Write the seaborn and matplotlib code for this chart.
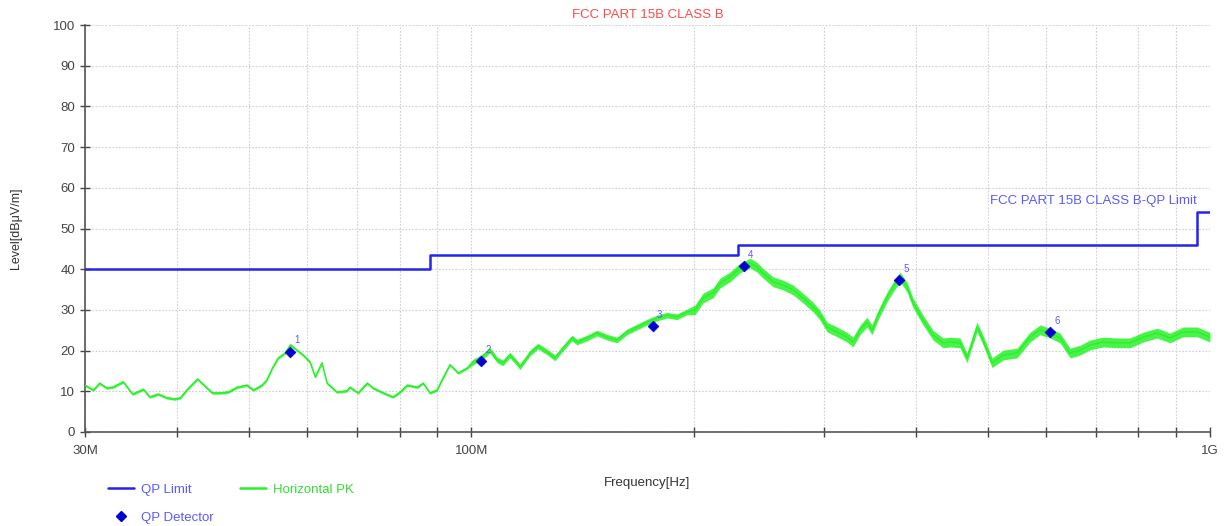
"""Radiated emission scan, FCC Part 15B Class B, horizontal polarisation."""

import matplotlib

matplotlib.use("Agg")

import matplotlib.pyplot as plt
import numpy as np
import pandas as pd
import seaborn as sns
from matplotlib.lines import Line2D

# limit line (MHz, dBuV/m)
limit_freq = [30, 88, 230, 960, 1000]
limit_level = [40, 43.5, 46, 54, 54]

# horizontal PK trace (MHz, dBuV/m)
trace_freq = [
    30.0, 30.8, 31.4, 32.1, 32.7, 33.8, 34.8, 36.0, 36.7, 37.7,
    38.7, 39.7, 40.4, 41.2, 42.6, 43.6, 44.6, 45.7, 46.9, 48.2,
    49.7, 50.7, 52.1, 52.9, 53.8, 54.8, 56.0, 56.9, 58.1, 59.2,
    60.5, 61.5, 62.8, 63.8, 65.8, 67.9, 68.5, 70.3, 72.3, 73.6,
    76.0, 78.4, 80.1, 81.9, 84.5, 86.1, 87.9, 89.9, 91.6, 93.6,
    96.0, 98.7, 100.6, 103.4, 106.0, 108.4, 110.4, 112.8, 115.3, 116.4,
    120.1, 123.1, 126.6, 129.8, 133.1, 136.9, 139.0, 143.5, 148.0, 152.7,
    157.5, 162.5, 167.7, 173.0, 178.4, 184.1, 189.9, 195.9, 200.9, 205.9,
    212.5, 217.2, 224.0, 231.1, 238.5, 243.7, 248.3, 256.2, 264.3, 272.7,
    281.3, 290.2, 296.6, 303.1, 312.7, 322.6, 328.7, 336.0, 343.3, 348.8,
    355.3, 365.5, 372.4, 380.6, 389.0, 396.3, 408.9, 421.8, 435.2, 444.8,
    458.8, 468.9, 483.8, 492.9, 507.0, 524.7, 548.1, 570.7, 588.8, 607.4,
    626.7, 646.5, 667.0, 688.1, 716.6, 748.6, 779.5, 811.8, 847.9, 883.0,
    919.5, 960.4, 1000.0,
]
trace_level = [
    11.5, 10.3, 12.0, 10.8, 11.0, 12.3, 9.3, 10.5, 8.6, 9.3,
    8.4, 8.1, 8.4, 10.3, 13.0, 11.3, 9.6, 9.6, 9.8, 11.0,
    11.5, 10.3, 11.5, 12.8, 15.7, 18.2, 19.4, 21.4, 20.1, 18.9,
    17.2, 13.5, 17.0, 12.0, 9.8, 10.1, 11.0, 9.6, 12.0, 10.8,
    9.6, 8.6, 9.8, 11.5, 11.0, 12.0, 9.6, 10.3, 13.3, 16.5,
    14.5, 15.7, 17.2, 18.4, 20.1, 17.7, 17.0, 18.9, 17.0, 16.0,
    19.4, 21.1, 19.7, 18.2, 20.6, 23.1, 22.1, 23.1, 24.3, 23.3,
    22.6, 24.6, 25.8, 27.0, 28.0, 28.7, 28.3, 29.5, 30.0, 32.9,
    34.2, 36.6, 38.1, 40.3, 41.5, 40.5, 39.0, 36.9, 36.1, 34.9,
    32.9, 30.7, 28.7, 25.8, 24.6, 23.3, 22.1, 25.1, 27.0, 25.1,
    28.7, 33.2, 35.6, 38.1, 35.6, 31.7, 27.5, 23.8, 21.9, 22.1,
    21.9, 18.2, 25.8, 22.6, 17.0, 18.9, 19.4, 23.3, 25.1, 24.3,
    23.1, 19.4, 20.1, 21.4, 22.1, 21.9, 21.9, 23.3, 24.3, 23.1,
    24.6, 24.6, 23.3,
]

# half width of the dense noise band, per frequency range
band_start = [30, 100, 200, 400]
band_half_width = [0.3, 0.7, 1.2, 1.2]

# QP detector readings
qp_label = ["1", "2", "3", "4", "5", "6"]
qp_freq = [56.9, 103.1, 176.2, 234.0, 379.5, 607.4]
qp_level = [19.7, 17.4, 26.0, 40.8, 37.3, 24.6]

sns.set_theme(style="white")
plt.rcParams["font.family"] = ["Liberation Sans", "DejaVu Sans"]

LIMIT_COLOR = "#2424f0"
TRACE_COLOR = "#2af22a"
QP_COLOR = "#0000d0"
TEXT_BLUE = "#5a5aff"

trace = pd.DataFrame({"freq": trace_freq, "level": trace_level})
limit = pd.DataFrame({"freq": limit_freq, "level": limit_level})
qp = pd.DataFrame({"freq": qp_freq, "level": qp_level, "label": qp_label})

fig = plt.figure(figsize=(12.29, 5.26), dpi=100)
ax = fig.add_axes([85 / 1229, 1 - 432 / 526, 1125 / 1229, 407 / 526])

spread = np.array(band_half_width)[np.searchsorted(band_start, trace["freq"], side="right") - 1]
ax.fill_between(trace["freq"], trace["level"] - spread, trace["level"] + spread,
                color=TRACE_COLOR, lw=0, alpha=0.85, zorder=2)
sns.lineplot(data=trace, x="freq", y="level", ax=ax, color=TRACE_COLOR, lw=1.1,
             sort=False, estimator=None, zorder=3)
sns.lineplot(data=limit, x="freq", y="level", ax=ax, color=LIMIT_COLOR, lw=1.8,
             drawstyle="steps-post", sort=False, estimator=None, zorder=4)
sns.scatterplot(data=qp, x="freq", y="level", ax=ax, marker="D", s=30,
                color=QP_COLOR, edgecolor=QP_COLOR, linewidth=0.5, zorder=5)
for _, row in qp.iterrows():
    ax.annotate(row["label"], (row["freq"], row["level"]), xytext=(3, 6),
                textcoords="offset points", fontsize=7, color=TEXT_BLUE)

ax.text(960, 56.8, "FCC PART 15B CLASS B-QP Limit", ha="right", va="center",
        fontsize=9.5, color=TEXT_BLUE)

ax.set_xscale("log")
ax.set_xlim(30, 1000)
ax.set_ylim(0, 100)
ax.set_xticks([30, 100, 1000])
ax.set_xticklabels(["30M", "100M", "1G"])
ax.set_xticks([40, 50, 60, 70, 80, 90, 200, 300, 400, 500, 600, 700, 800, 900], minor=True)
ax.xaxis.set_minor_formatter(matplotlib.ticker.NullFormatter())
ax.set_yticks(range(0, 101, 10))
ax.grid(True, which="both", color="#cfcfcf", ls=(0, (1.5, 1.5)), lw=0.8)
ax.tick_params(axis="both", which="both", direction="inout", length=7, width=1,
               color="#444444", labelsize=9.5, labelcolor="#444444", bottom=True, left=True)
ax.tick_params(axis="x", which="major", pad=6)
for side in ["top", "right"]:
    ax.spines[side].set_visible(False)
for side in ["left", "bottom"]:
    ax.spines[side].set_color("#555555")
    ax.spines[side].set_linewidth(1.2)

ax.set_xlabel("Frequency[Hz]", fontsize=9.5, color="#333333", labelpad=14)
ax.set_ylabel("Level[dBμV/m]", fontsize=9, color="#333333", labelpad=22)
ax.set_title("FCC PART 15B CLASS B", fontsize=9.5, color="#ff4a4a", pad=5)

handles = [
    Line2D([], [], color=LIMIT_COLOR, lw=1.8),
    Line2D([], [], color=QP_COLOR, marker="D", ms=5, ls="none"),
    Line2D([], [], color=TRACE_COLOR, lw=1.8),
]
leg = fig.legend(handles, ["QP Limit", "QP Detector", "Horizontal PK"], ncol=2,
                 loc="upper left", bbox_to_anchor=(101 / 1229, 1 - 477 / 526),
                 frameon=False, fontsize=9.5, borderpad=0, handlelength=2.0,
                 handletextpad=0.5, columnspacing=2.0, labelspacing=1.2)
for text, color in zip(leg.get_texts(), [TEXT_BLUE, TEXT_BLUE, "#33dd33"]):
    text.set_color(color)

fig.savefig("out.png", dpi=100)
